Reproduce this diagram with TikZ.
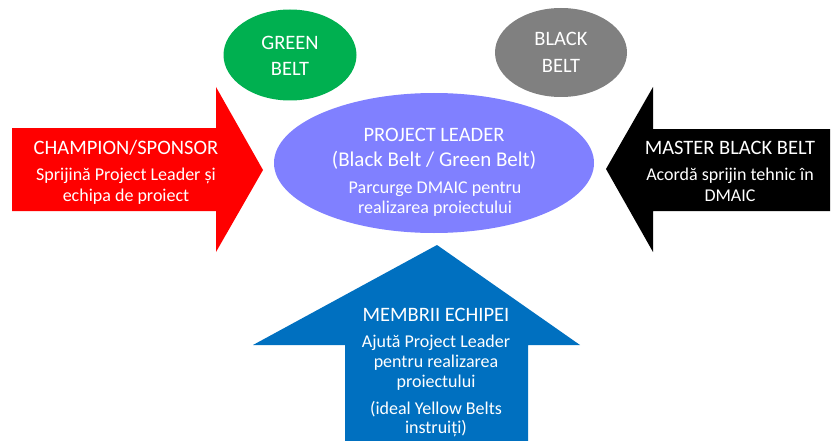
\documentclass[tikz,border=0pt]{standalone}
\usepackage{fontspec}
\setmainfont{Carlito}
\definecolor{cRed}{HTML}{FF0000}
\definecolor{cBlue}{HTML}{0070C0}
\definecolor{cPurple}{HTML}{8080FF}
\definecolor{cGreen}{HTML}{00B050}
\definecolor{cGray}{HTML}{808080}
\tikzset{
  ttl/.style={text=white, anchor=base, inner sep=0pt, font=\fontsize{20.5}{24}\selectfont},
  ttlb/.style={text=white, anchor=base, inner sep=0pt, font=\fontsize{21}{24}\selectfont},
  sub/.style={text=white, anchor=base, inner sep=0pt, font=\fontsize{18}{21}\selectfont},
}
\begin{document}
\begin{tikzpicture}[x=1pt,y=-1pt]
\useasboundingbox (0,0) rectangle (834,441);
% arrows
\fill[cRed] (12,128) -- (216,128) -- (216,87) -- (263,170) -- (216,252) -- (216,211) -- (12,211) -- cycle;
\fill[black] (830,129) -- (653,129) -- (653,87) -- (606,169) -- (653,252) -- (653,211) -- (830,211) -- cycle;
\fill[cBlue] (437,245) -- (580,345) -- (528,345) -- (528,441) -- (345,441) -- (345,345) -- (253,345) -- cycle;
% ellipses
\fill[cPurple] (434,163) ellipse [x radius=160, y radius=70];
\fill[cGreen] (290,55) ellipse [x radius=66.5, y radius=45.5];
\fill[cGray] (561,52.5) ellipse [x radius=66, y radius=44.5];
% texts
\node[ttl] (g1) at (290,50) {GREEN};
\node[ttl] (g2) at (290,76) {BELT};
\node[ttl] (b1) at (561,46) {BLACK};
\node[ttl] (b2) at (561,73) {BELT};
\node[ttl] (c1) at (126,154) {CHAMPION/SPONSOR};
\node[sub] (c2) at (126,180) {Sprijină Project Leader și};
\node[sub] (c3) at (126,201) {echipa de proiect};
\node[ttl] (m1) at (730,154) {MASTER BLACK BELT};
\node[sub] (m2) at (730,180) {Acordă sprijin tehnic în};
\node[sub] (m3) at (730,201) {DMAIC};
\node[ttl] (p1) at (434,141) {PROJECT LEADER};
\node[ttlb] (p2) at (434,166) {(Black Belt / Green Belt)};
\node[sub] (p3) at (435,193) {Parcurge DMAIC pentru};
\node[sub] (p4) at (435,213) {realizarea proiectului};
\node[ttl] (e1) at (436,321) {MEMBRII ECHIPEI};
\node[sub] (e2) at (436,347) {Ajută Project Leader};
\node[sub] (e3) at (436,367) {pentru realizarea};
\node[sub] (e4) at (436,387) {proiectului};
\node[sub] (e5) at (436,414) {(ideal Yellow Belts};
\node[sub] (e6) at (436,433) {instruiți)};
\end{tikzpicture}
\end{document}
